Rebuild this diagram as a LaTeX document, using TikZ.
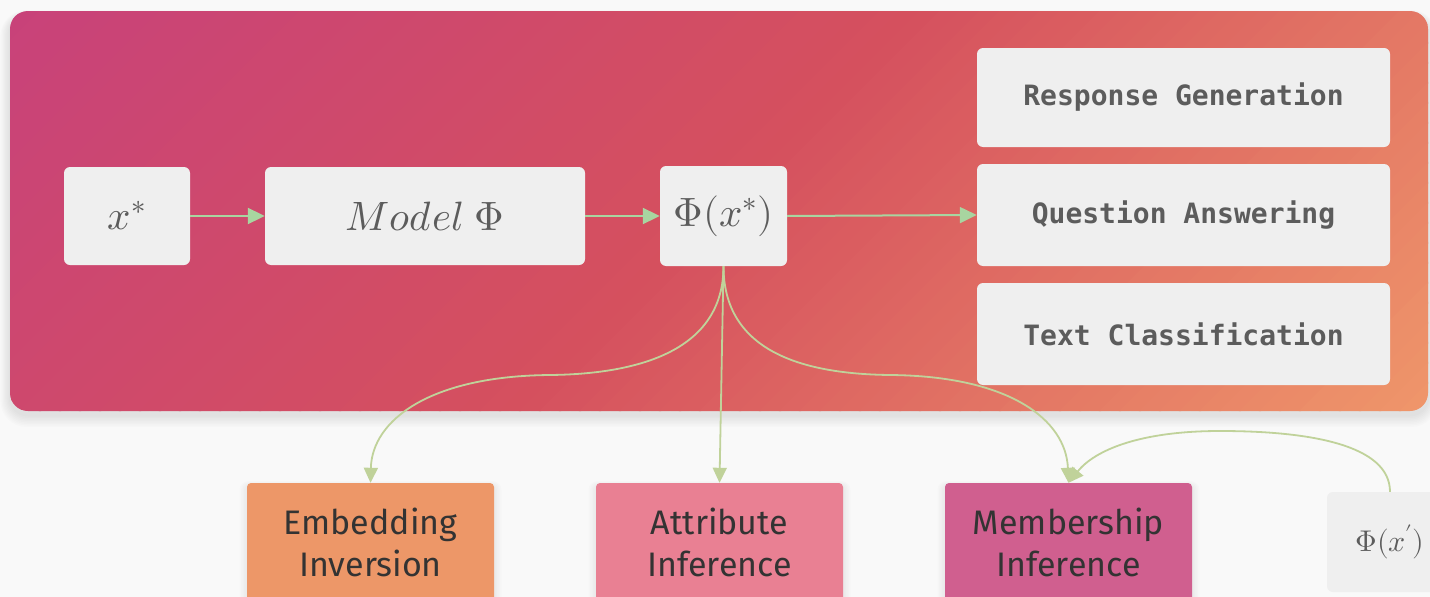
\documentclass[tikz,border=0pt]{standalone}
\usepackage{fontspec}
\usepackage{unicode-math}
\setmathfont{Latin Modern Math}
\newfontfamily\codefont{DejaVu Sans Mono}
\newfontfamily\labelfont{Fira Sans}
\usetikzlibrary{arrows.meta}
\definecolor{pagebg}{HTML}{F9F9F9}
\definecolor{gA}{RGB}{200,66,122}
\definecolor{gB}{RGB}{213,80,94}
\definecolor{gC}{RGB}{239,150,106}
\definecolor{boxgray}{HTML}{EFEFEF}
\definecolor{boxtext}{HTML}{5C5C5C}
\definecolor{labtext}{HTML}{333333}
\definecolor{arrgreen}{HTML}{A8D5A0}
\definecolor{curvegreen}{HTML}{C0D29A}
\definecolor{eicol}{HTML}{ED9768}
\definecolor{aicol}{HTML}{E98093}
\definecolor{micol}{HTML}{D05F8F}
\tikzset{
  lightbox/.style={fill=boxgray, rounded corners=6pt, draw=none, text=boxtext, inner sep=0pt, align=center},
  mathtxt/.style={font=\fontsize{41}{46}\selectfont},
  codetxt/.style={font=\codefont\bfseries\fontsize{28}{32}\selectfont},
  attackbox/.style={rounded corners=4pt, draw=none, text=labtext, inner sep=0pt, align=center,
     minimum width=247pt, minimum height=118pt, font=\labelfont\fontsize{34}{42}\selectfont},
  toparrow/.style={draw=arrgreen, line width=2pt, -{Triangle[length=17pt,width=16pt]}, arrgreen},
  curvearrow/.style={draw=curvegreen, line width=1.8pt, -{Triangle[length=15pt,width=14pt]}, curvegreen},
}
\begin{document}
\begin{tikzpicture}[x=1pt,y=-1pt]
\useasboundingbox (0,0) rectangle (1430,597);
\fill[pagebg] (0,0) rectangle (1430,597);
% panel shadow
\foreach \k in {1,...,8} {
  \fill[black, opacity=0.012, rounded corners=18pt+\k pt] (10-\k*1.2,11-\k*0.6+4) rectangle (1428+\k*1.2,411+\k*1.5+4);
}
% gradient panel
\begin{scope}
\clip[rounded corners=18pt] (10,11) rectangle (1428,411);
\foreach \i in {0,...,45} {
  \pgfmathtruncatemacro\p{min(100,max(0,(\i*20+10)/909*100))}
  \fill[gB!\p!gA] (10+\i*20,0) -- (10+\i*20+22,0) -- (10+\i*20+22-420,420) -- (10+\i*20-420,420) -- cycle;
}
\foreach \i in {46,...,92} {
  \pgfmathtruncatemacro\p{min(100,max(0,(\i*20+10-909)/909*100))}
  \fill[gC!\p!gB] (10+\i*20,0) -- (10+\i*20+22,0) -- (10+\i*20+22-420,420) -- (10+\i*20-420,420) -- cycle;
}
\end{scope}
% top row
\node[lightbox, mathtxt, minimum width=126pt, minimum height=98pt] (xs) at (127,216) {$x^*$};
\node[lightbox, mathtxt, minimum width=320pt, minimum height=98pt] (model) at (425,216) {$Model\;\Phi$};
\node[lightbox, mathtxt, minimum width=127pt, minimum height=100pt] (phi) at (723.5,216) {$\Phi(x^*)$};
\node[lightbox, codetxt, minimum width=413pt, minimum height=99pt] (rg) at (1183.5,97.5) {Response Generation};
\node[lightbox, codetxt, minimum width=413pt, minimum height=102pt] (qa) at (1183.5,215) {Question Answering};
\node[lightbox, codetxt, minimum width=413pt, minimum height=102pt] (tc) at (1183.5,334) {Text Classification};
\draw[toparrow] (xs) -- (model);
\draw[toparrow] (model) -- (phi);
\draw[toparrow] (phi.east) -- (qa.west);
% bottom boxes shadows
\foreach \cx in {370.5,719.5,1068.5} {
  \foreach \k in {1,...,5} {
    \fill[black, opacity=0.012, rounded corners=4pt+\k pt] (\cx-123.5-\k*1.5,483-\k*1.0+3) rectangle (\cx+123.5+\k*1.5,620);
  }
}
\node[attackbox, fill=eicol] (ei) at (370.5,542) {Embedding\\Inversion};
\node[attackbox, fill=aicol] (ai) at (719.5,542) {Attribute\\Inference};
\node[attackbox, fill=micol] (mi) at (1068.5,542) {Membership\\Inference};
\node[lightbox, font=\fontsize{30}{34}\selectfont, minimum width=126pt, minimum height=100pt] (phip) at (1390,542) {$\Phi(x')$};
% curves
\draw[curvearrow] (phi.south) .. controls (723.5,350) and (640,374) .. (550,375)
   .. controls (430,376) and (372,420) .. (ei.north);
\draw[curvearrow] (phi.south) -- (ai.north);
\draw[curvearrow] (phi.south) .. controls (723.5,350) and (800,374) .. (890,375)
   .. controls (1010,376) and (1066,420) .. (mi.north);
\draw[curvearrow] (phip.north) .. controls (1390,445) and (1310,431) .. (1220,431)
   .. controls (1140,431) and (1095,450) .. (mi.north);
\end{tikzpicture}
\end{document}
